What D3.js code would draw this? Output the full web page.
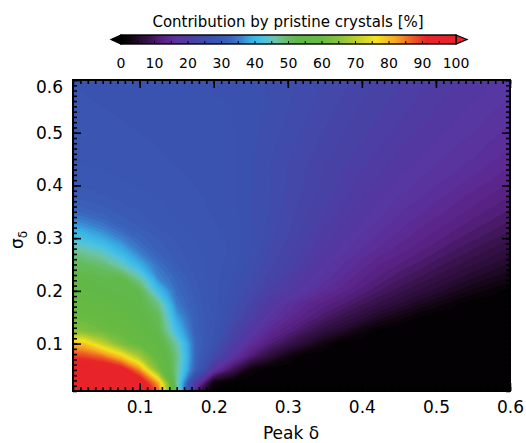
<!DOCTYPE html>
<html lang="en">
<head>
<meta charset="UTF-8" />
<script src="https://cdn.jsdelivr.net/npm/d3@7"></script>
<style>
  body { margin: 0; background: #fff; }
  text { font-family: "DejaVu Sans", sans-serif; fill: #000; }
</style>
</head>
<body>
<div id="chart"></div>
<script>
// grid nodes (data units)
const peakDelta = [0, 0.025, 0.05, 0.075, 0.1, 0.125, 0.15, 0.175, 0.2, 0.225, 0.25, 0.275, 0.3,
  0.325, 0.35, 0.375, 0.4, 0.425, 0.45, 0.475, 0.5, 0.525, 0.55, 0.575, 0.6];
const sigmaDelta = [0, 0.025, 0.05, 0.075, 0.1, 0.125, 0.15, 0.175, 0.2, 0.225, 0.25, 0.275, 0.3,
  0.325, 0.35, 0.375, 0.4, 0.425, 0.45, 0.475, 0.5, 0.525, 0.55, 0.575, 0.6];

// contribution by pristine crystals [%], one row per sigmaDelta (bottom row first)
const contribution = [
  [100, 100, 100, 100, 100, 90, 50, 8, 0, 0, 0, 0, 0, 0, 0, 0, 0, 0, 0, 0, 0, 0, 0, 0, 0],
  [100, 100, 100, 99, 97, 82, 47, 20, 2, 0, 0, 0, 0, 0, 0, 0, 0, 0, 0, 0, 0, 0, 0, 0, 0],
  [100, 100, 98, 95, 84, 63, 47, 32, 17, 9, 2, 0, 0, 0, 0, 0, 0, 0, 0, 0, 0, 0, 0, 0, 0],
  [90, 89, 86, 79, 68, 58, 48, 33, 24, 17, 11, 6.5, 2.5, 0, 0, 0, 0, 0, 0, 0, 0, 0, 0, 0, 0],
  [81, 79, 71, 63, 59, 55, 46, 33, 27, 21, 15.5, 11.5, 8.5, 5.5, 2.5, 0, 0, 0, 0, 0, 0, 0, 0, 0, 0],
  [66, 63, 61, 59, 56, 52, 41, 32, 28, 23, 18.5, 14.5, 12, 9.5, 7, 5, 2.5, 0.5, 0, 0, 0, 0, 0, 0, 0],
  [61, 60, 59, 57, 54, 51, 38, 31.5, 28.5, 25, 21, 17, 14.5, 12.3, 10.3, 8.3, 6.5, 4.5, 2.8, 1, 0, 0, 0, 0, 0],
  [58, 57.5, 56.5, 54.5, 53, 48, 35, 31, 28.5, 26, 22.5, 19, 16, 14, 12.5, 11, 9.2, 7.6, 6, 4.4, 2.8, 1.3, 0, 0, 0],
  [55.5, 55, 53.5, 52, 52, 41, 33.5, 30.5, 28.5, 26.5, 24, 21, 19.5, 17, 15, 13.3, 11.6, 10, 8.5, 7, 5.6, 4.2, 2.8, 1.6, 0.5],
  [53.5, 53, 52, 52, 46, 36, 32.5, 30, 28.5, 27, 25, 22.5, 20.5, 18.5, 16.5, 14.8, 13.2, 11.8, 10.3, 9.1, 7.8, 6.4, 5.1, 4, 3],
  [51.5, 50.5, 49, 45, 39, 34, 31, 29.5, 28.5, 27.5, 25.5, 23.5, 21.8, 19.7, 17.6, 16, 14.5, 13, 12, 10.8, 9.5, 8.3, 7.1, 6, 4.8],
  [48, 46.5, 44, 39.5, 35, 31.8, 30.3, 29.3, 28.5, 27.8, 26, 24, 22.4, 20.6, 18.7, 17.2, 15.8, 14.5, 13.4, 12.3, 11.1, 9.9, 8.8, 7.7, 6.6],
  [42.5, 41, 38.5, 35.5, 32.5, 31, 29.8, 29, 28.3, 27.8, 26.2, 24.5, 23, 21.2, 19.6, 18.2, 16.7, 15.6, 14.5, 13.4, 12.4, 11.3, 10.3, 9.3, 8.2],
  [38, 36.5, 34.5, 32, 30.8, 29.8, 29.2, 28.6, 28.1, 27.6, 26.2, 24.8, 23.3, 21.8, 20.3, 19, 17.7, 16.5, 15.4, 14.4, 13.5, 12.5, 11.5, 10.6, 9.6],
  [33.5, 32.6, 31.6, 30.6, 30, 29.3, 28.8, 28.3, 27.9, 27.4, 26, 25, 23.6, 22.2, 21, 19.8, 18.5, 17.3, 16.2, 15.3, 14.4, 13.6, 12.6, 11.7, 10.8],
  [31.3, 30.8, 30.3, 29.8, 29.4, 29, 28.6, 28.2, 27.8, 27.3, 26, 25, 23.8, 22.5, 21.3, 20.1, 19, 17.9, 16.9, 16.1, 15.2, 14.3, 13.5, 12.7, 11.8],
  [30, 29.8, 29.5, 29.2, 28.9, 28.6, 28.3, 28, 27.7, 27.3, 26.1, 25.1, 24, 22.9, 21.7, 20.6, 19.6, 18.6, 17.6, 16.8, 16, 15.2, 14.4, 13.6, 12.8],
  [29.5, 29.3, 29.1, 28.8, 28.6, 28.3, 28.1, 27.8, 27.5, 27.1, 26.1, 25, 23.9, 22.9, 21.8, 20.9, 20, 19.1, 18.2, 17.4, 16.7, 16, 15.2, 14.5, 13.6],
  [29, 28.9, 28.7, 28.5, 28.3, 28.1, 27.9, 27.7, 27.4, 27.2, 26.1, 25.1, 24.2, 23.2, 22.2, 21.3, 20.5, 19.6, 18.7, 18, 17.2, 16.6, 16, 15.2, 14.4],
  [28.7, 28.6, 28.5, 28.3, 28.1, 28, 27.8, 27.6, 27.3, 27.1, 26.3, 25.3, 24.4, 23.5, 22.6, 21.7, 20.9, 20, 19.2, 18.5, 17.7, 17.1, 16.4, 15.8, 15],
  [28.5, 28.4, 28.3, 28.2, 28, 27.9, 27.7, 27.5, 27.3, 27.1, 26.4, 25.5, 24.6, 23.8, 22.9, 22, 21.2, 20.5, 19.7, 19, 18.2, 17.6, 17, 16.3, 15.6],
  [28.3, 28.2, 28.1, 28, 27.9, 27.8, 27.6, 27.4, 27.2, 27, 26.5, 25.7, 24.8, 24, 23.2, 22.4, 21.6, 20.9, 20.1, 19.4, 18.7, 18, 17.4, 16.8, 16.2],
  [28.2, 28.1, 28, 27.9, 27.8, 27.7, 27.5, 27.3, 27.1, 27, 26.5, 25.8, 25.1, 24.3, 23.5, 22.7, 21.9, 21.2, 20.5, 19.8, 19.1, 18.5, 17.8, 17.2, 16.7],
  [28.1, 28, 27.9, 27.8, 27.7, 27.6, 27.4, 27.2, 27, 26.9, 26.5, 25.9, 25.2, 24.5, 23.7, 23, 22.3, 21.5, 20.8, 20.2, 19.5, 18.9, 18.3, 17.7, 17.1],
  [28, 27.9, 27.8, 27.7, 27.6, 27.5, 27.3, 27.1, 26.9, 26.8, 26.4, 25.9, 25.3, 24.6, 24, 23.3, 22.6, 21.8, 21.1, 20.5, 19.9, 19.3, 18.7, 18.1, 17.5]
];

const axisTicks = [0.1, 0.2, 0.3, 0.4, 0.5, 0.6];
const barTicks = [0, 10, 20, 30, 40, 50, 60, 70, 80, 90, 100];

// colour table
const colorStops = [0, 3, 6, 9, 11, 13, 15, 17, 19, 21, 23, 25, 27, 30, 33, 36, 38, 40, 43, 46,
  50, 53, 60, 66, 71, 76, 82, 87, 91, 100];
const colorValues = ["#000000", "#120512", "#2a0c36", "#3c1452", "#4e1c72", "#5a2488", "#5c2c96",
  "#5836a0", "#5239a2", "#4a40a4", "#4446a8", "#3e4cac", "#3a52b0", "#3a58b4", "#3a66be", "#3a86d0",
  "#38a6e0", "#3cb8e8", "#50c4dc", "#6cc4a8", "#66bc60", "#60b848", "#68ba42", "#92c43a", "#c4d22a",
  "#f4e41e", "#f6a622", "#ee5a24", "#e8262a", "#e8232a"];

const width = 526, height = 443;
const plot = { left: 73, right: 510, top: 80, bottom: 391 };

const x = d3.scaleLinear().domain([0.01, 0.6]).range([plot.left, plot.right]);
const y = d3.scaleLinear().domain([0.01, 0.6]).range([plot.bottom, plot.top]);
const color = d3.scaleLinear().domain(colorStops).range(colorValues).clamp(true);
const cb = d3.scaleLinear().domain([0, 100]).range([121, 456]);

const svg = d3.select("#chart").append("svg")
  .attr("width", width)
  .attr("height", height);

const defs = svg.append("defs");
defs.append("clipPath").attr("id", "plotClip")
  .append("rect")
  .attr("x", plot.left).attr("y", plot.top)
  .attr("width", plot.right - plot.left)
  .attr("height", plot.bottom - plot.top);

// filled contours
const nx = peakDelta.length, ny = sigmaDelta.length;
const stepX = peakDelta[1] - peakDelta[0], stepY = sigmaDelta[1] - sigmaDelta[0];
const levels = d3.range(0, 100, 1);
const contours = d3.contours().size([nx, ny]).thresholds(levels)(contribution.flat());

const gridToScreen = d3.geoTransform({
  point: function (gx, gy) {
    this.stream.point(
      x(peakDelta[0] + (gx - 0.5) * stepX),
      y(sigmaDelta[0] + (gy - 0.5) * stepY)
    );
  }
});
const path = d3.geoPath(gridToScreen);

svg.append("g")
  .attr("clip-path", "url(#plotClip)")
  .selectAll("path")
  .data(contours)
  .join("path")
  .attr("d", path)
  .attr("fill", (d) => color(d.value + 0.5));

// axes: ticks inward on all four sides
const minorTicks = d3.range(1, 61).map((i) => i / 100);
function styleAxis(g) {
  g.select(".domain").remove();
  g.selectAll(".tick line").attr("stroke", "#000").attr("stroke-width", 1.6);
  g.selectAll("text").style("font-family", "DejaVu Sans").style("font-size", "17px").attr("fill", "#000");
}

const axes = [
  { make: d3.axisBottom(x), pos: `translate(0,${plot.bottom})` },
  { make: d3.axisTop(x), pos: `translate(0,${plot.top})` },
  { make: d3.axisLeft(y), pos: `translate(${plot.left},0)` },
  { make: d3.axisRight(y), pos: `translate(${plot.right},0)` }
];
axes.forEach((a) => {
  svg.append("g").attr("transform", a.pos)
    .call(a.make.tickValues(minorTicks).tickSize(-4).tickSizeOuter(0).tickFormat(""))
    .call(styleAxis);
});

svg.append("g").attr("transform", `translate(0,${plot.bottom})`)
  .call(d3.axisBottom(x).tickValues(axisTicks).tickSize(-8).tickSizeOuter(0)
    .tickPadding(10).tickFormat(d3.format(".1f")))
  .call(styleAxis);
svg.append("g").attr("transform", `translate(0,${plot.top})`)
  .call(d3.axisTop(x).tickValues(axisTicks).tickSize(-8).tickSizeOuter(0).tickFormat(""))
  .call(styleAxis);
const yAxis = svg.append("g").attr("transform", `translate(${plot.left},0)`)
  .call(d3.axisLeft(y).tickValues(axisTicks).tickSize(-8).tickSizeOuter(0)
    .tickPadding(10).tickFormat(d3.format(".1f")))
  .call(styleAxis);
yAxis.selectAll("text").filter((d) => d === 0.6).attr("y", 7);
svg.append("g").attr("transform", `translate(${plot.right},0)`)
  .call(d3.axisRight(y).tickValues(axisTicks).tickSize(-8).tickSizeOuter(0).tickFormat(""))
  .call(styleAxis);

svg.append("rect")
  .attr("x", plot.left).attr("y", plot.top)
  .attr("width", plot.right - plot.left)
  .attr("height", plot.bottom - plot.top)
  .attr("fill", "none")
  .attr("stroke", "#000")
  .attr("stroke-width", 2);

// axis titles
svg.append("text")
  .attr("x", 291).attr("y", 439)
  .attr("text-anchor", "middle")
  .style("font-size", "17px")
  .text("Peak δ");

const yTitle = svg.append("text")
  .attr("transform", "translate(23,240) rotate(-90)")
  .attr("text-anchor", "middle")
  .style("font-size", "17px");
yTitle.append("tspan").text("σ");
yTitle.append("tspan").attr("dy", 4).style("font-size", "12px").text("δ");

// colour bar
const barTop = 35, barBottom = 44;
const grad = defs.append("linearGradient").attr("id", "barGrad")
  .attr("x1", "0%").attr("x2", "100%").attr("y1", "0%").attr("y2", "0%");
grad.selectAll("stop")
  .data(d3.range(0, 101, 1))
  .join("stop")
  .attr("offset", (d) => d + "%")
  .attr("stop-color", (d) => color(d));

const bar = svg.append("g");
bar.append("polygon")
  .attr("points", `${cb(0)},${barTop} ${cb(0) - 10},${(barTop + barBottom) / 2} ${cb(0)},${barBottom}`)
  .attr("fill", color(0)).attr("stroke", "#000").attr("stroke-width", 1.2);
bar.append("polygon")
  .attr("points", `${cb(100)},${barTop} ${cb(100) + 11},${(barTop + barBottom) / 2} ${cb(100)},${barBottom}`)
  .attr("fill", color(100)).attr("stroke", "#000").attr("stroke-width", 1.2);
bar.append("rect")
  .attr("x", cb(0)).attr("y", barTop)
  .attr("width", cb(100) - cb(0)).attr("height", barBottom - barTop)
  .attr("fill", "url(#barGrad)")
  .attr("stroke", "#000").attr("stroke-width", 1.4);
bar.selectAll("line.minor")
  .data(d3.range(5, 100, 5))
  .join("line")
  .attr("x1", (d) => cb(d)).attr("x2", (d) => cb(d))
  .attr("y1", barBottom).attr("y2", barBottom - 3)
  .attr("stroke", "#000").attr("stroke-width", 1);
bar.selectAll("text.lab")
  .data(barTicks)
  .join("text")
  .attr("x", (d) => cb(d)).attr("y", 68)
  .attr("text-anchor", "middle")
  .style("font-size", "14px")
  .text((d) => d);
svg.append("text")
  .attr("x", 288).attr("y", 27)
  .attr("text-anchor", "middle")
  .style("font-size", "15px")
  .text("Contribution by pristine crystals [%]");
</script>
</body>
</html>
